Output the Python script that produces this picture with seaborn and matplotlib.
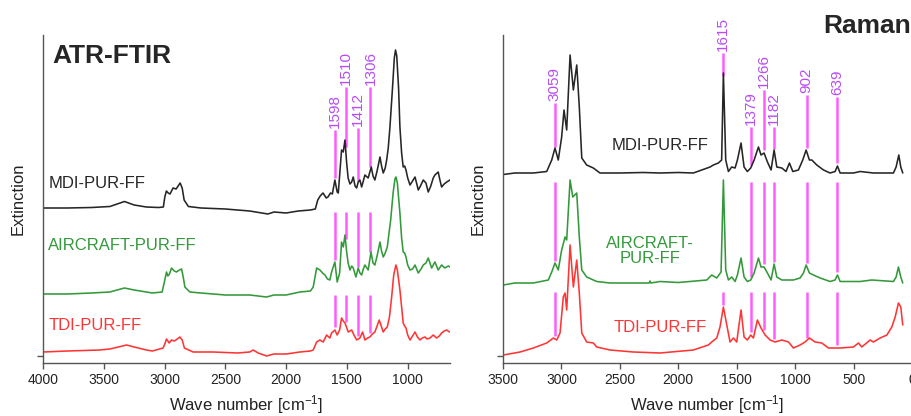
import numpy as np
import pandas as pd
import matplotlib
matplotlib.use("Agg")
import matplotlib.pyplot as plt
import seaborn as sns

# ---------------- data ----------------
sample_names = ["MDI-PUR-FF", "AIRCRAFT-PUR-FF", "TDI-PUR-FF"]
raman_names = ["MDI-PUR-FF", "AIRCRAFT-\nPUR-FF", "TDI-PUR-FF"]

ftir_mdi_wn = [4000, 3800, 3600, 3450, 3330, 3250, 3150, 3050, 3010, 2998, 2985, 2970, 2955, 2930, 2905,
               2872, 2855, 2839, 2804, 2700, 2500, 2300, 2200, 2150, 2100, 2000, 1900, 1800, 1760, 1740,
               1720, 1697, 1670, 1656, 1635, 1620, 1599, 1580, 1571, 1544, 1530, 1516, 1502, 1490, 1475,
               1461, 1448, 1433, 1420, 1407, 1393, 1379, 1365, 1352, 1325, 1300, 1285, 1270, 1250, 1228,
               1215, 1201, 1185, 1173, 1160, 1146, 1125, 1110, 1100, 1090, 1075, 1064, 1050, 1037, 1025,
               1014, 1000, 981, 960, 940, 925, 913, 895, 872, 850, 831, 810, 790, 776, 749, 735, 721,
               700, 679, 652]
ftir_mdi = [0, 0, 0.5, 1.5, 6.5, 3, 1, 0.5, 1, 11, 17, 15, 14, 20, 19, 25, 20, 8, 1.5, 0, -1, -3, -5, -6,
            -4, -5, -3, -2, -1, 8, 12, 15, 10, 11, 15, 14, 28, 16, 15, 58, 56, 68, 45, 30, 24, 26, 31, 22,
            20, 26, 28, 21, 27, 33, 30, 41, 32, 28, 38, 51, 42, 35, 40, 48, 60, 81, 120, 150, 158, 152, 120,
            81, 55, 41, 42, 38, 30, 23, 27, 31, 24, 18, 22, 28, 25, 16, 22, 30, 33, 36, 28, 21, 24, 26, 28]

ftir_air_wn = [4000, 3800, 3600, 3450, 3330, 3250, 3100, 3020, 2998, 2984, 2973, 2960, 2943, 2920, 2902,
               2878, 2860, 2845, 2833, 2792, 2700, 2500, 2300, 2161, 2100, 2000, 1887, 1800, 1777, 1749,
               1722, 1700, 1681, 1660, 1640, 1626, 1599, 1580, 1560, 1544, 1530, 1516, 1502, 1490, 1475,
               1461, 1448, 1426, 1407, 1393, 1379, 1365, 1352, 1325, 1302, 1285, 1270, 1250, 1228, 1215,
               1201, 1185, 1168, 1140, 1120, 1105, 1097, 1085, 1064, 1050, 1037, 1025, 1014, 1000, 981,
               960, 940, 913, 890, 872, 850, 831, 803, 776, 749, 721, 694, 666, 652]
ftir_air = [-1, -1, 0, 1, 5, 3, 0, 1, 13, 21, 17, 19, 25, 22, 21, 23, 24, 15, 6, 1, 0, -2, -2, -4, -2, -2,
            1, 2, 6, 25, 23, 20, 18, 14, 13, 21, 31, 11, 20, 51, 46, 58, 41, 30, 23, 27, 25, 16, 25, 20, 18,
            24, 28, 23, 41, 30, 28, 38, 51, 42, 36, 40, 46, 73, 100, 114, 116, 110, 80, 55, 41, 40, 36, 28,
            23, 24, 28, 20, 24, 28, 30, 35, 25, 31, 23, 28, 25, 27, 26]

ftir_tdi_wn = [4000, 3800, 3533, 3450, 3380, 3313, 3250, 3150, 3100, 3012, 2995, 2984, 2962, 2943, 2920,
               2907, 2874, 2855, 2837, 2765, 2600, 2400, 2300, 2271, 2230, 2161, 2100, 2000, 1887, 1800,
               1777, 1749, 1722, 1695, 1667, 1640, 1626, 1599, 1580, 1560, 1544, 1530, 1516, 1489, 1461,
               1442, 1420, 1393, 1371, 1352, 1330, 1311, 1290, 1270, 1234, 1215, 1201, 1185, 1168, 1150,
               1132, 1115, 1097, 1085, 1064, 1050, 1037, 1025, 1014, 1000, 981, 960, 940, 920, 899, 880,
               858, 840, 817, 790, 762, 740, 721, 700, 679, 657]
ftir_tdi = [0, 1, 2, 3, 5, 7, 5, 2, 1, 4, 9, 13, 9, 12, 11, 12, 15, 12, 4, 0, 0, -1, 0, 2, -1, -4, -2, -2,
            0, 1, 2, 10, 12, 10, 17, 14, 19, 22, 17, 22, 34, 31, 29, 20, 22, 17, 12, 14, 20, 12, 14, 15, 18,
            20, 32, 25, 20, 23, 25, 35, 55, 77, 87, 82, 62, 45, 29, 26, 24, 17, 12, 16, 20, 15, 12, 14, 15,
            13, 14, 17, 14, 16, 19, 21, 22, 20]

raman_mdi_wn = [3497, 3400, 3240, 3126, 3083, 3055, 3027, 2998, 2978, 2955, 2926, 2898, 2869, 2847, 2826,
                2784, 2727, 2670, 2500, 2300, 2156, 2000, 1871, 1728, 1700, 1657, 1629, 1614, 1594, 1571,
                1543, 1514, 1494, 1463, 1437, 1409, 1380, 1351, 1314, 1292, 1266, 1237, 1206, 1180, 1157,
                1114, 1078, 1049, 1020, 972, 935, 906, 878, 857, 815, 757, 701, 658, 638, 615, 501, 444,
                330, 159, 136, 113, 96, 79]
raman_mdi = [-1.5, 0, 0, 1.5, 13, 25, 13, 36, 63, 43, 118, 83, 108, 66, 15, 8, 5, 0, 0, 0.5, 0, 0.5, 0, 6,
             8, 10, 13, 100, 13, 1.5, 6, 5, 13, 30, 6, 1.5, 5, 13, 26, 18, 20, 11, 3, 23, 6, 5, 1.5, 10, 1.5,
             3, 13, 23, 13, 13, 8, 3, 0, 1.5, 7, 0, 0, 1.5, 0, 0, 6, 18, 6, 0]

raman_air_wn = [3497, 3400, 3240, 3112, 3083, 3055, 3027, 2998, 2969, 2955, 2926, 2903, 2869, 2847, 2826,
                2784, 2698, 2584, 2500, 2250, 2242, 2235, 2156, 2000, 1756, 1714, 1671, 1634, 1614, 1594,
                1571, 1543, 1514, 1494, 1463, 1437, 1409, 1380, 1351, 1314, 1292, 1266, 1237, 1206, 1180,
                1157, 1114, 1015, 958, 929, 906, 878, 844, 786, 701, 658, 638, 615, 444, 344, 159, 136,
                116, 96, 79]
raman_air = [-2, 0, 0, 3, 11, 20, 13, 33, 46, 43, 103, 86, 90, 46, 13, 6, 1.5, 0, 0, 0, 2, 0, 1.5, 0.5, 3,
             8, 5, 11, 103, 13, 3, 6, 1.5, 8, 25, 6, 1.5, 3, 10, 25, 16, 16, 10, 3, 19, 6, 3, 3, 5, 10, 18,
             10, 8, 5, 1.5, 3, 8, 1.5, 1.5, 3, 1.5, 6, 16, 6, 0]

raman_tdi_wn = [3497, 3354, 3240, 3126, 3069, 3040, 3012, 2984, 2969, 2955, 2926, 2898, 2869, 2847, 2826,
                2784, 2727, 2698, 2584, 2385, 2156, 1871, 1743, 1714, 1671, 1643, 1614, 1585, 1557, 1528,
                1500, 1463, 1437, 1409, 1380, 1357, 1323, 1292, 1257, 1214, 1172, 1114, 1057, 1015, 958,
                915, 878, 829, 772, 715, 615, 501, 458, 430, 358, 330, 273, 215, 173, 144, 116, 96, 79]
raman_tdi = [-3, 0, 4, 9, 14, 12, 19, 55, 59, 42, 107, 65, 92, 59, 19, 10, 9, 5, 2, 0, -1, 2, 7, 10, 14,
             25, 45, 27, 10, 14, 10, 42, 15, 12, 17, 14, 32, 24, 17, 12, 10, 12, 10, 4, 7, 10, 14, 10, 9,
             4, 4, 5, 9, 5, 12, 10, 14, 17, 25, 35, 49, 45, 27]

ftir_markers = [1598, 1510, 1412, 1306]
raman_markers = [3059, 1615, 1379, 1266, 1182, 902, 639]

ftir_ticks = [4000, 3500, 3000, 2500, 2000, 1500, 1000]
raman_ticks = [3500, 3000, 2500, 2000, 1500, 1000, 500, 0]

# ---------------- layout / style ----------------
W, H = 912, 416
COLORS = ["#262626", "#33993a", "#ff3535"]
PINK = "#ff5cff"
VIOLET = "#b84cf5"
FTIR_OFFSETS = [148, 63, 4]
RAMAN_OFFSETS = [183, 73, 4]
FTIR_LABEL_TOP = [226, 269, 228, 269]          # top of the marker line above the spectrum
RAMAN_LABEL_TOP = [253, 303, 229, 266, 229, 261, 259]
FTIR_GAP_LEVELS = [144, 61]                     # tops of the marker lines between spectra
RAMAN_GAP_LEVELS = [174, 64]
GAP = 3

sns.set_style("ticks")
plt.rcParams["font.family"] = ["Liberation Sans", "DejaVu Sans"]
plt.rcParams["mathtext.fontset"] = "custom"
plt.rcParams["mathtext.rm"] = "Liberation Sans"
plt.rcParams["mathtext.it"] = "Liberation Sans"
plt.rcParams["mathtext.default"] = "regular"

fig = plt.figure(figsize=(W / 100, H / 100), dpi=100)
axL = fig.add_axes([43 / W, 53 / H, 407 / W, 328 / H])
axR = fig.add_axes([503 / W, 53 / H, 409 / W, 328 / H])


def draw_panel(ax, wns, vals, offsets, markers, label_tops, gap_levels, xlim, ticks):
    shifted = []
    for wn, v, off, c in zip(wns, vals, offsets, COLORS):
        df = pd.DataFrame({"wn": wn, "y": np.asarray(v, float) + off})
        sns.lineplot(data=df, x="wn", y="y", ax=ax, color=c, lw=1.15, sort=False, estimator=None)
        order = np.argsort(df["wn"].values)
        shifted.append((df["wn"].values[order], df["y"].values[order]))

    for m, top in zip(markers, label_tops):
        xs, ys = shifted[0]
        bot = np.interp(m, xs, ys) + GAP
        ax.vlines(m, bot, top, color=PINK, lw=1.8, zorder=1)
        ax.text(m, top + 2, str(m), rotation=90, ha="center", va="bottom",
                color=VIOLET, fontsize=11)
        for lvl, (xs2, ys2) in zip(gap_levels, shifted[1:]):
            bot2 = np.interp(m, xs2, ys2) + GAP
            if lvl - bot2 > 2:
                ax.vlines(m, bot2, lvl, color=PINK, lw=1.8, zorder=1)

    ax.set_xlim(*xlim)
    ax.set_ylim(-7, 321)
    ax.set_xticks(ticks)
    ax.set_yticks([0])
    ax.set_yticklabels([])
    ax.set_ylabel("")
    ax.set_xlabel("Wave number [cm$^{-1}$]", fontsize=12, labelpad=4, color="#222222")
    sns.despine(ax=ax)
    for s in ("left", "bottom"):
        ax.spines[s].set_color("#555555")
        ax.spines[s].set_linewidth(1.0)
    ax.tick_params(axis="both", direction="out", length=4, width=1, colors="#555555",
                   labelsize=10, labelcolor="#222222")


draw_panel(axL, [ftir_mdi_wn, ftir_air_wn, ftir_tdi_wn], [ftir_mdi, ftir_air, ftir_tdi],
           FTIR_OFFSETS, ftir_markers, FTIR_LABEL_TOP, FTIR_GAP_LEVELS, (4000, 652), ftir_ticks)
draw_panel(axR, [raman_mdi_wn, raman_air_wn, raman_tdi_wn], [raman_mdi, raman_air, raman_tdi],
           RAMAN_OFFSETS, raman_markers, RAMAN_LABEL_TOP, RAMAN_GAP_LEVELS, (3500, 0), raman_ticks)

# sample labels
axL.text(3951, 172, sample_names[0], color=COLORS[0], fontsize=12, ha="left", va="center")
axL.text(3959, 111, sample_names[1], color=COLORS[1], fontsize=12, ha="left", va="center")
axL.text(3951, 30, sample_names[2], color=COLORS[2], fontsize=12, ha="left", va="center")
axR.text(2156, 210, raman_names[0], color=COLORS[0], fontsize=12, ha="center", va="center")
axR.text(2242, 105, raman_names[1], color=COLORS[1], fontsize=12, ha="center", va="center",
         multialignment="center", linespacing=1.05)
axR.text(2156, 29, raman_names[2], color=COLORS[2], fontsize=12, ha="center", va="center")

# titles and y labels
fig.text(52 / W, 1 - 56 / H, "ATR-FTIR", fontsize=19, fontweight="bold", ha="left", va="center")
fig.text(911 / W, 1 - 26 / H, "Raman", fontsize=19, fontweight="bold", ha="right", va="center")
fig.text(18 / W, 1 - 199 / H, "Extinction", rotation=90, fontsize=12, ha="center", va="center",
         color="#222222")
fig.text(478 / W, 1 - 199 / H, "Extinction", rotation=90, fontsize=12, ha="center", va="center",
         color="#222222")

fig.savefig("out.png", dpi=100)
